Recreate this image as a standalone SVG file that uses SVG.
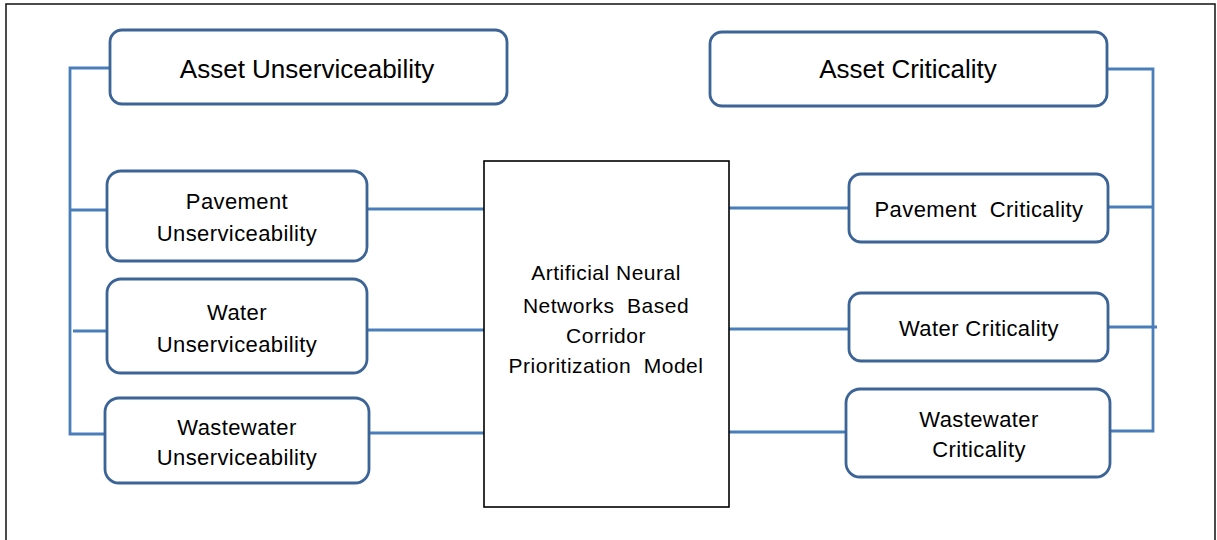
<svg xmlns="http://www.w3.org/2000/svg" width="1217" height="540" viewBox="0 0 1217 540">
<style>
.node{fill:#fff;stroke:#3D6496;stroke-width:2.8}
.core{fill:#fff;stroke:#000;stroke-width:1.6}
.conn{fill:none;stroke:#4A7EBB;stroke-width:2.8}
text{font-family:"Liberation Sans",Arial,sans-serif;fill:#000;text-anchor:middle}
.big{font-size:26px}
.med{font-size:22px;letter-spacing:0.4px}
.ctr{font-size:21px;letter-spacing:0.5px}
</style>
<rect x="0" y="0" width="1217" height="540" fill="#fff"/>
<rect x="6" y="4" width="1209" height="545" fill="none" stroke="#111" stroke-width="1.5"/>
<g id="connectors">
<path class="conn" d="M112 68 H70 V434 H105"/>
<path class="conn" d="M70 210 H107"/>
<path class="conn" d="M73 331 H107"/>
<path class="conn" d="M367 209 H484"/>
<path class="conn" d="M367 330 H484"/>
<path class="conn" d="M369 433 H484"/>
<path class="conn" d="M729 208 H849"/>
<path class="conn" d="M729 329 H849"/>
<path class="conn" d="M729 432 H846"/>
<path class="conn" d="M1107 69 H1153 V431 H1110"/>
<path class="conn" d="M1108 207 H1153"/>
<path class="conn" d="M1108 327 H1157"/>
</g>
<g id="asset-unserviceability">
<rect class="node" x="110" y="30" width="397" height="74" rx="12"/>
<text class="big" x="307" y="78">Asset Unserviceability</text>
</g>
<g id="pavement-unserviceability">
<rect class="node" x="107" y="171" width="260" height="90" rx="14"/>
<text class="med" x="237" y="209">Pavement</text>
<text class="med" x="237" y="241">Unserviceability</text>
</g>
<g id="water-unserviceability">
<rect class="node" x="107" y="279" width="260" height="94" rx="14"/>
<text class="med" x="237" y="320">Water</text>
<text class="med" x="237" y="352">Unserviceability</text>
</g>
<g id="wastewater-unserviceability">
<rect class="node" x="105" y="398" width="264" height="85" rx="14"/>
<text class="med" x="237" y="435">Wastewater</text>
<text class="med" x="237" y="465">Unserviceability</text>
</g>
<g id="ann-model">
<rect class="core" x="484" y="161" width="245" height="346"/>
<text class="ctr" x="606" y="280">Artificial Neural</text>
<text class="ctr" x="606" y="313" xml:space="preserve">Networks  Based</text>
<text class="ctr" x="606" y="343">Corridor</text>
<text class="ctr" x="606" y="373" xml:space="preserve">Prioritization  Model</text>
</g>
<g id="asset-criticality">
<rect class="node" x="710" y="32" width="397" height="74" rx="12"/>
<text class="big" x="908" y="78">Asset Criticality</text>
</g>
<g id="pavement-criticality">
<rect class="node" x="849" y="174" width="259" height="68" rx="12"/>
<text class="med" x="979" y="217" xml:space="preserve">Pavement  Criticality</text>
</g>
<g id="water-criticality">
<rect class="node" x="849" y="293" width="259" height="68" rx="12"/>
<text class="med" x="979" y="336">Water Criticality</text>
</g>
<g id="wastewater-criticality">
<rect class="node" x="846" y="389" width="264" height="88" rx="14"/>
<text class="med" x="979" y="427">Wastewater</text>
<text class="med" x="979" y="457">Criticality</text>
</g>
</svg>
